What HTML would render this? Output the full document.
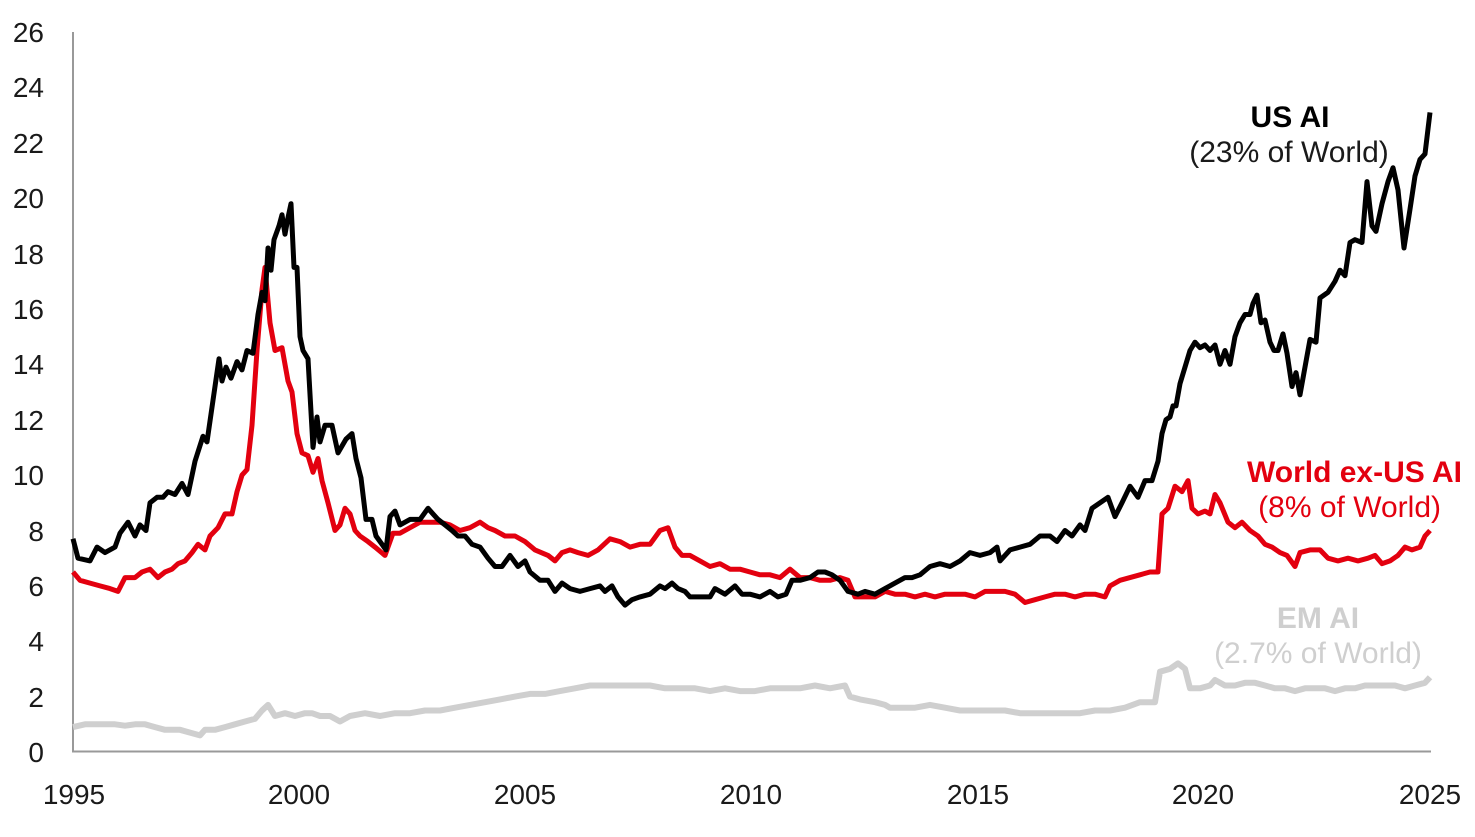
<!DOCTYPE html>
<html><head><meta charset="utf-8"><style>
html,body{margin:0;padding:0;background:#fff;}
svg{display:block;font-family:"Liberation Sans",Arial,sans-serif;}
</style></head><body>
<svg id="s" width="1475" height="837" viewBox="0 0 1475 837" xmlns="http://www.w3.org/2000/svg">
<line x1="73" y1="32" x2="73" y2="752" stroke="#999" stroke-width="2"/>
<line x1="72" y1="751.5" x2="1431" y2="751.5" stroke="#999" stroke-width="2"/>
<g font-size="28" fill="#1a1a1a" text-anchor="end">
<text x="44" y="762">0</text><text x="44" y="707">2</text><text x="44" y="651">4</text><text x="44" y="596">6</text><text x="44" y="541">8</text><text x="44" y="485">10</text><text x="44" y="430">12</text><text x="44" y="374">14</text><text x="44" y="319">16</text><text x="44" y="264">18</text><text x="44" y="208">20</text><text x="44" y="153">22</text><text x="44" y="97">24</text><text x="44" y="42">26</text>
</g>
<g font-size="28" fill="#1a1a1a" text-anchor="middle">
<text x="74" y="804">1995</text><text x="299" y="804">2000</text><text x="525" y="804">2005</text><text x="751" y="804">2010</text><text x="978" y="804">2015</text><text x="1203" y="804">2020</text><text x="1430" y="804">2025</text>
</g>
<polyline id="g" fill="none" stroke="#cfcfcf" stroke-width="6" stroke-linejoin="round"/>
<polyline id="r" fill="none" stroke="#e3000f" stroke-width="5" stroke-linejoin="round"/>
<polyline id="b" fill="none" stroke="#000" stroke-width="5" stroke-linejoin="round"/>
<g text-anchor="middle">
<text x="1290" y="127" font-size="30" font-weight="bold" fill="#000">US AI</text>
<text x="1289" y="162" font-size="30" fill="#1a1a1a">(23% of World)</text>
<text x="1318" y="628" font-size="30" font-weight="bold" fill="#cfcfcf">EM AI</text>
<text x="1318" y="663" font-size="30" fill="#cfcfcf">(2.7% of World)</text>
</g>
<g text-anchor="end" fill="#e3000f">
<text x="1462" y="482" font-size="30" font-weight="bold">World ex-US AI</text>
<text x="1441" y="517" font-size="30">(8% of World)</text>
</g>
</svg>
<script>
var B=[73,7.7,78,7.0,90,6.9,97,7.4,105,7.2,115,7.4,120,7.9,128,8.3,135,7.8,140,8.2,146,8.0,150,9.0,157,9.2,163,9.2,168,9.4,175,9.3,182,9.7,188,9.3,195,10.5,203,11.4,207,11.2,213,12.7,219,14.2,222,13.4,226,13.9,231,13.5,237,14.1,242,13.8,247,14.5,253,14.4,258,15.8,262,16.6,265,16.3,268,18.2,271,17.4,274,18.5,279,19.0,282,19.4,285,18.7,288,19.3,291,19.8,294,17.5,297,17.5,300,15.0,303,14.5,308,14.2,313,11.0,317,12.1,320,11.2,325,11.8,332,11.8,338,10.8,346,11.3,352,11.5,356,10.6,361,9.9,366,8.4,372,8.4,376,7.8,382,7.5,386,7.3,390,8.5,395,8.7,400,8.2,410,8.4,420,8.4,428,8.8,433,8.6,438,8.4,445,8.2,452,8.0,458,7.8,465,7.8,472,7.5,480,7.4,488,7.0,495,6.7,502,6.7,510,7.1,518,6.7,525,6.9,530,6.5,540,6.2,548,6.2,555,5.8,562,6.1,570,5.9,580,5.8,590,5.9,600,6.0,605,5.8,612,6.0,618,5.6,625,5.3,632,5.5,640,5.6,650,5.7,660,6.0,665,5.9,672,6.1,678,5.9,685,5.8,690,5.6,700,5.6,710,5.6,715,5.9,725,5.7,735,6.0,742,5.7,750,5.7,760,5.6,770,5.8,778,5.6,786,5.7,792,6.2,800,6.2,810,6.3,818,6.5,825,6.5,832,6.4,840,6.2,848,5.8,858,5.7,865,5.8,875,5.7,885,5.9,895,6.1,905,6.3,912,6.3,920,6.4,930,6.7,940,6.8,950,6.7,960,6.9,970,7.2,980,7.1,990,7.2,997,7.4,1000,6.9,1010,7.3,1020,7.4,1030,7.5,1040,7.8,1050,7.8,1057,7.6,1065,8.0,1072,7.8,1080,8.2,1085,8.0,1092,8.8,1100,9.0,1108,9.2,1115,8.5,1122,9.0,1130,9.6,1138,9.2,1145,9.8,1152,9.8,1158,10.5,1162,11.5,1166,12.0,1170,12.1,1173,12.5,1176,12.5,1180,13.3,1185,13.9,1190,14.5,1195,14.8,1200,14.6,1205,14.7,1210,14.5,1215,14.7,1220,14.0,1225,14.5,1230,14.0,1235,15.0,1240,15.5,1245,15.8,1250,15.8,1253,16.2,1257,16.5,1261,15.5,1265,15.6,1270,14.8,1274,14.5,1278,14.5,1283,15.1,1287,14.4,1292,13.2,1296,13.7,1300,12.9,1305,13.9,1310,14.9,1316,14.8,1320,16.4,1328,16.6,1335,17.0,1340,17.4,1345,17.2,1350,18.4,1355,18.5,1362,18.4,1367,20.6,1372,19.0,1376,18.8,1382,19.8,1388,20.6,1393,21.1,1398,20.3,1404,18.2,1410,19.6,1415,20.8,1420,21.4,1425,21.6,1430,23.1];
var R=[73,6.5,80,6.2,90,6.1,100,6.0,110,5.9,118,5.8,125,6.3,135,6.3,142,6.5,150,6.6,158,6.3,165,6.5,172,6.6,178,6.8,185,6.9,192,7.2,198,7.5,205,7.3,210,7.8,218,8.1,225,8.6,232,8.6,237,9.4,242,10.0,247,10.2,252,11.8,257,14.5,262,16.7,265,17.5,270,15.5,275,14.5,282,14.6,288,13.4,292,13.0,297,11.5,302,10.8,308,10.7,313,10.1,318,10.6,322,9.8,328,9.0,335,8.0,340,8.2,345,8.8,350,8.6,355,8.0,360,7.8,368,7.6,375,7.4,385,7.1,393,7.9,400,7.9,410,8.1,420,8.3,430,8.3,440,8.3,450,8.2,460,8.0,470,8.1,480,8.3,488,8.1,495,8.0,505,7.8,515,7.8,525,7.6,535,7.3,548,7.1,555,6.9,562,7.2,570,7.3,578,7.2,588,7.1,598,7.3,610,7.7,620,7.6,630,7.4,640,7.5,650,7.5,660,8.0,668,8.1,675,7.4,682,7.1,690,7.1,700,6.9,710,6.7,720,6.8,730,6.6,740,6.6,750,6.5,760,6.4,770,6.4,780,6.3,790,6.6,800,6.3,810,6.3,820,6.2,830,6.2,840,6.3,848,6.2,855,5.6,865,5.6,875,5.6,885,5.8,895,5.7,905,5.7,915,5.6,925,5.7,935,5.6,945,5.7,955,5.7,965,5.7,975,5.6,985,5.8,995,5.8,1005,5.8,1015,5.7,1025,5.4,1035,5.5,1045,5.6,1055,5.7,1065,5.7,1075,5.6,1085,5.7,1095,5.7,1105,5.6,1110,6.0,1120,6.2,1130,6.3,1140,6.4,1150,6.5,1158,6.5,1162,8.6,1168,8.8,1175,9.6,1182,9.4,1188,9.8,1192,8.8,1198,8.6,1205,8.7,1210,8.6,1215,9.3,1220,9.0,1228,8.3,1235,8.1,1242,8.3,1250,8.0,1258,7.8,1265,7.5,1272,7.4,1280,7.2,1287,7.1,1295,6.7,1300,7.2,1310,7.3,1320,7.3,1328,7.0,1338,6.9,1348,7.0,1358,6.9,1368,7.0,1375,7.1,1382,6.8,1390,6.9,1398,7.1,1405,7.4,1412,7.3,1420,7.4,1425,7.8,1430,8.0];
var G=[73,0.9,85,1.0,100,1.0,115,1.0,125,0.95,135,1.0,145,1.0,155,0.9,165,0.8,180,0.8,190,0.7,200,0.6,205,0.8,215,0.8,225,0.9,235,1.0,245,1.1,255,1.2,262,1.5,268,1.7,275,1.3,285,1.4,295,1.3,305,1.4,312,1.4,320,1.3,330,1.3,340,1.1,350,1.3,365,1.4,380,1.3,395,1.4,410,1.4,425,1.5,440,1.5,455,1.6,470,1.7,485,1.8,500,1.9,515,2.0,530,2.1,545,2.1,560,2.2,575,2.3,590,2.4,605,2.4,620,2.4,635,2.4,650,2.4,665,2.3,680,2.3,695,2.3,710,2.2,725,2.3,740,2.2,755,2.2,770,2.3,785,2.3,800,2.3,815,2.4,830,2.3,845,2.4,850,2.0,860,1.9,875,1.8,885,1.7,890,1.6,900,1.6,915,1.6,930,1.7,945,1.6,960,1.5,975,1.5,990,1.5,1005,1.5,1020,1.4,1035,1.4,1050,1.4,1065,1.4,1080,1.4,1095,1.5,1110,1.5,1125,1.6,1140,1.8,1155,1.8,1160,2.9,1170,3.0,1178,3.2,1185,3.0,1190,2.3,1200,2.3,1210,2.4,1215,2.6,1225,2.4,1235,2.4,1245,2.5,1255,2.5,1265,2.4,1275,2.3,1285,2.3,1295,2.2,1305,2.3,1315,2.3,1325,2.3,1335,2.2,1345,2.3,1355,2.3,1365,2.4,1375,2.4,1385,2.4,1395,2.4,1405,2.3,1415,2.4,1425,2.5,1430,2.7];
function p(a){var s=[];for(var i=0;i<a.length;i+=2){s.push(a[i]+","+(752-a[i+1]*27.69).toFixed(1));}return s.join(" ");}
document.getElementById("b").setAttribute("points",p(B));
document.getElementById("r").setAttribute("points",p(R));
document.getElementById("g").setAttribute("points",p(G));
</script>
</body></html>
